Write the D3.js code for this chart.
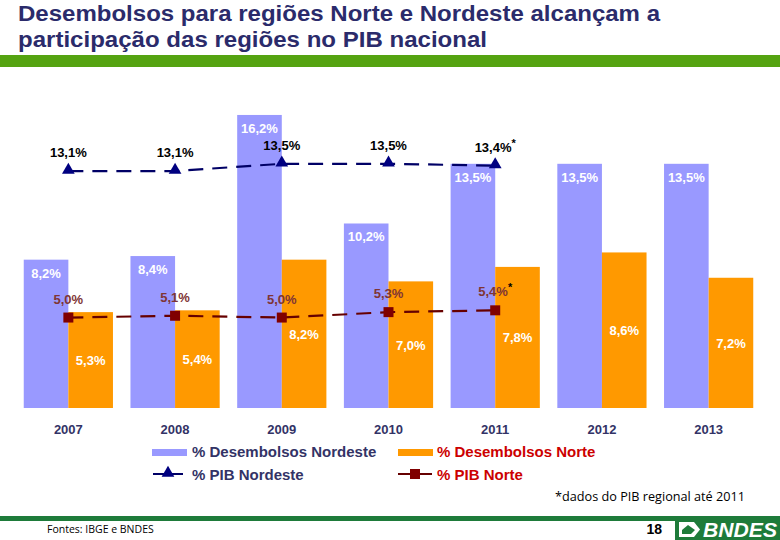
<!DOCTYPE html>
<html><head><meta charset="utf-8">
<script src="https://cdn.jsdelivr.net/npm/d3@7"></script>
<style>body{margin:0;background:#fff}svg{display:block}</style>
</head><body><svg id="c" width="780" height="540"></svg>
<script>
const years = ["2007","2008","2009","2010","2011","2012","2013"];
const desembNordeste = [8.2, 8.4, 16.2, 10.2, 13.5, 13.5, 13.5];
const desembNorte = [5.3, 5.4, 8.2, 7.0, 7.8, 8.6, 7.2];
const pibNordeste = [13.1, 13.1, 13.5, 13.5, 13.4];
const pibNorte = [5.0, 5.1, 5.0, 5.3, 5.4];
const pibYears = ["2007","2008","2009","2010","2011"];
const starred = ["2011"];
const fmt = v => v.toFixed(1).replace(".", ",") + "%";

const svg = d3.select("#c");
const F = "Liberation Sans, Arial, sans-serif";

// title
const title = svg.append("text").attr("font-family", F).attr("font-weight", "bold")
  .attr("font-size", 22).attr("fill", "#2b2b6b");
title.append("tspan").attr("x", 18).attr("y", 21).attr("textLength", 642).attr("lengthAdjust", "spacingAndGlyphs")
  .text("Desembolsos para regiões Norte e Nordeste alcançam a");
title.append("tspan").attr("x", 18).attr("y", 47).attr("textLength", 469).attr("lengthAdjust", "spacingAndGlyphs")
  .text("participação das regiões no PIB nacional");
svg.append("rect").attr("x", 0).attr("y", 55).attr("width", 780).attr("height", 12).attr("fill", "#55a311");

const x = d3.scaleBand().domain(years).range([15, 762]).paddingInner(0.164).paddingOuter(0.082);
const x1 = d3.scaleBand().domain(["ne", "n"]).range([0, x.bandwidth()]);
const y = d3.scaleLinear().domain([0, 18]).range([408, 82.4]);

const g = svg.append("g");
// bars
g.selectAll("rect.ne").data(years).join("rect")
  .attr("x", d => x(d) + x1("ne")).attr("width", x1.bandwidth())
  .attr("y", (d, i) => y(desembNordeste[i])).attr("height", (d, i) => y(0) - y(desembNordeste[i]))
  .attr("fill", "#9999ff");
g.selectAll("rect.n").data(years).join("rect")
  .attr("x", d => x(d) + x1("n")).attr("width", x1.bandwidth())
  .attr("y", (d, i) => y(desembNorte[i])).attr("height", (d, i) => y(0) - y(desembNorte[i]))
  .attr("fill", "#ff9900");

// bar labels
g.selectAll("text.ne").data(years).join("text")
  .attr("x", d => x(d) + x1("ne") + x1.bandwidth() / 2)
  .attr("y", (d, i) => y(desembNordeste[i]) + 18)
  .attr("text-anchor", "middle").attr("font-family", F).attr("font-weight", "bold")
  .attr("font-size", 13).attr("fill", "#fff").text((d, i) => fmt(desembNordeste[i]));
g.selectAll("text.n").data(years).join("text")
  .attr("x", d => x(d) + x1("n") + x1.bandwidth() / 2)
  .attr("y", (d, i) => (y(desembNorte[i]) + y(0)) / 2 + 5)
  .attr("text-anchor", "middle").attr("font-family", F).attr("font-weight", "bold")
  .attr("font-size", 13).attr("fill", "#fff").text((d, i) => fmt(desembNorte[i]));

// x axis labels
g.selectAll("text.yr").data(years).join("text")
  .attr("x", d => x(d) + x.bandwidth() / 2).attr("y", 434)
  .attr("text-anchor", "middle").attr("font-family", F).attr("font-weight", "bold")
  .attr("font-size", 13).attr("fill", "#333366").text(d => d);

// lines
const cx = d => x(d) + x.bandwidth() / 2;
const lineNE = d3.line().x((d, i) => cx(pibYears[i])).y(d => y(d));
g.append("path").attr("d", lineNE(pibNordeste)).attr("fill", "none")
  .attr("stroke", "#000066").attr("stroke-width", 2.2).attr("stroke-dasharray", "15,9");
g.append("path").attr("d", lineNE(pibNorte)).attr("fill", "none")
  .attr("stroke", "#660000").attr("stroke-width", 2.2).attr("stroke-dasharray", "15,9");

const tri = d3.symbol().type(d3.symbolTriangle).size(70);
g.selectAll("path.tri").data(pibNordeste).join("path")
  .attr("d", tri).attr("transform", (d, i) => `translate(${cx(pibYears[i])},${y(d) - 1})`)
  .attr("fill", "#000080");
g.selectAll("rect.sq").data(pibNorte).join("rect")
  .attr("x", (d, i) => cx(pibYears[i]) - 5).attr("y", d => y(d) - 5)
  .attr("width", 10).attr("height", 10).attr("fill", "#800000");

// line labels
const neLab = g.selectAll("text.pne").data(pibNordeste).join("text")
  .attr("x", (d, i) => cx(pibYears[i])).attr("y", d => y(d) - 14)
  .attr("text-anchor", "middle").attr("font-family", F).attr("font-weight", "bold")
  .attr("font-size", 13).attr("fill", "#000");
neLab.append("tspan").text(d => fmt(d));
neLab.filter((d, i) => starred.includes(pibYears[i])).append("tspan")
  .attr("dy", -5).attr("font-size", 11).text("*");

const nLab = g.selectAll("text.pn").data(pibNorte).join("text")
  .attr("x", (d, i) => cx(pibYears[i])).attr("y", d => y(d) - 14)
  .attr("text-anchor", "middle").attr("font-family", F).attr("font-weight", "bold")
  .attr("font-size", 13).attr("fill", "#7f3535");
nLab.append("tspan").text(d => fmt(d));
nLab.filter((d, i) => starred.includes(pibYears[i])).append("tspan")
  .attr("dy", -5).attr("font-size", 11).attr("fill", "#000").text("*");

// legend
const L = svg.append("g").attr("font-family", F).attr("font-weight", "bold").attr("font-size", 15);
L.append("rect").attr("x", 152).attr("y", 449).attr("width", 35).attr("height", 7).attr("fill", "#9999ff");
L.append("text").attr("x", 192).attr("y", 457).attr("fill", "#333366").text("% Desembolsos Nordeste");
L.append("rect").attr("x", 398).attr("y", 449).attr("width", 35).attr("height", 7).attr("fill", "#ff9900");
L.append("text").attr("x", 437).attr("y", 457).attr("fill", "#cc0000").text("% Desembolsos Norte");
L.append("line").attr("x1", 153).attr("x2", 183).attr("y1", 474).attr("y2", 474).attr("stroke", "#000066").attr("stroke-width", 2);
L.append("path").attr("d", tri).attr("transform", "translate(168,473)").attr("fill", "#000080");
L.append("text").attr("x", 192).attr("y", 480).attr("fill", "#333366").text("% PIB Nordeste");
L.append("line").attr("x1", 398).attr("x2", 432).attr("y1", 474).attr("y2", 474).attr("stroke", "#660000").attr("stroke-width", 2);
L.append("rect").attr("x", 410).attr("y", 469).attr("width", 10).attr("height", 10).attr("fill", "#800000");
L.append("text").attr("x", 437).attr("y", 480).attr("fill", "#cc0000").text("% PIB Norte");

// footer
svg.append("text").attr("x", 555).attr("y", 501).attr("textLength", 190).attr("lengthAdjust", "spacingAndGlyphs")
  .attr("font-family", "Open Sans, sans-serif").attr("font-size", 12.5).attr("fill", "#000")
  .text("*dados do PIB regional até 2011");
svg.append("rect").attr("x", 0).attr("y", 516).attr("width", 780).attr("height", 5).attr("fill", "#1e7b3a");
svg.append("text").attr("x", 47).attr("y", 533)
  .attr("font-family", "Open Sans, sans-serif").attr("font-size", 10.5).attr("fill", "#000")
  .text("Fontes: IBGE e BNDES");
svg.append("text").attr("x", 662).attr("y", 534).attr("text-anchor", "end")
  .attr("font-family", F).attr("font-weight", "bold").attr("font-size", 14).attr("fill", "#000").text("18");
svg.append("rect").attr("x", 675).attr("y", 518).attr("width", 105).attr("height", 22).attr("fill", "#1e7b3a");
svg.append("path").attr("d", "M679,537 L679,522 L694,522 L700,529.5 L694,537 Z").attr("fill", "#fff");
svg.append("path").attr("d", "M682,534 L682,530 L688,525 L695,530 L691,534 Z").attr("fill", "#1e7b3a");
svg.append("text").attr("x", 703).attr("y", 537).attr("textLength", 74).attr("lengthAdjust", "spacingAndGlyphs")
  .attr("font-family", F).attr("font-weight", "bold")
  .attr("font-style", "italic").attr("font-size", 21).attr("fill", "#fff").text("BNDES");
</script></body></html>
